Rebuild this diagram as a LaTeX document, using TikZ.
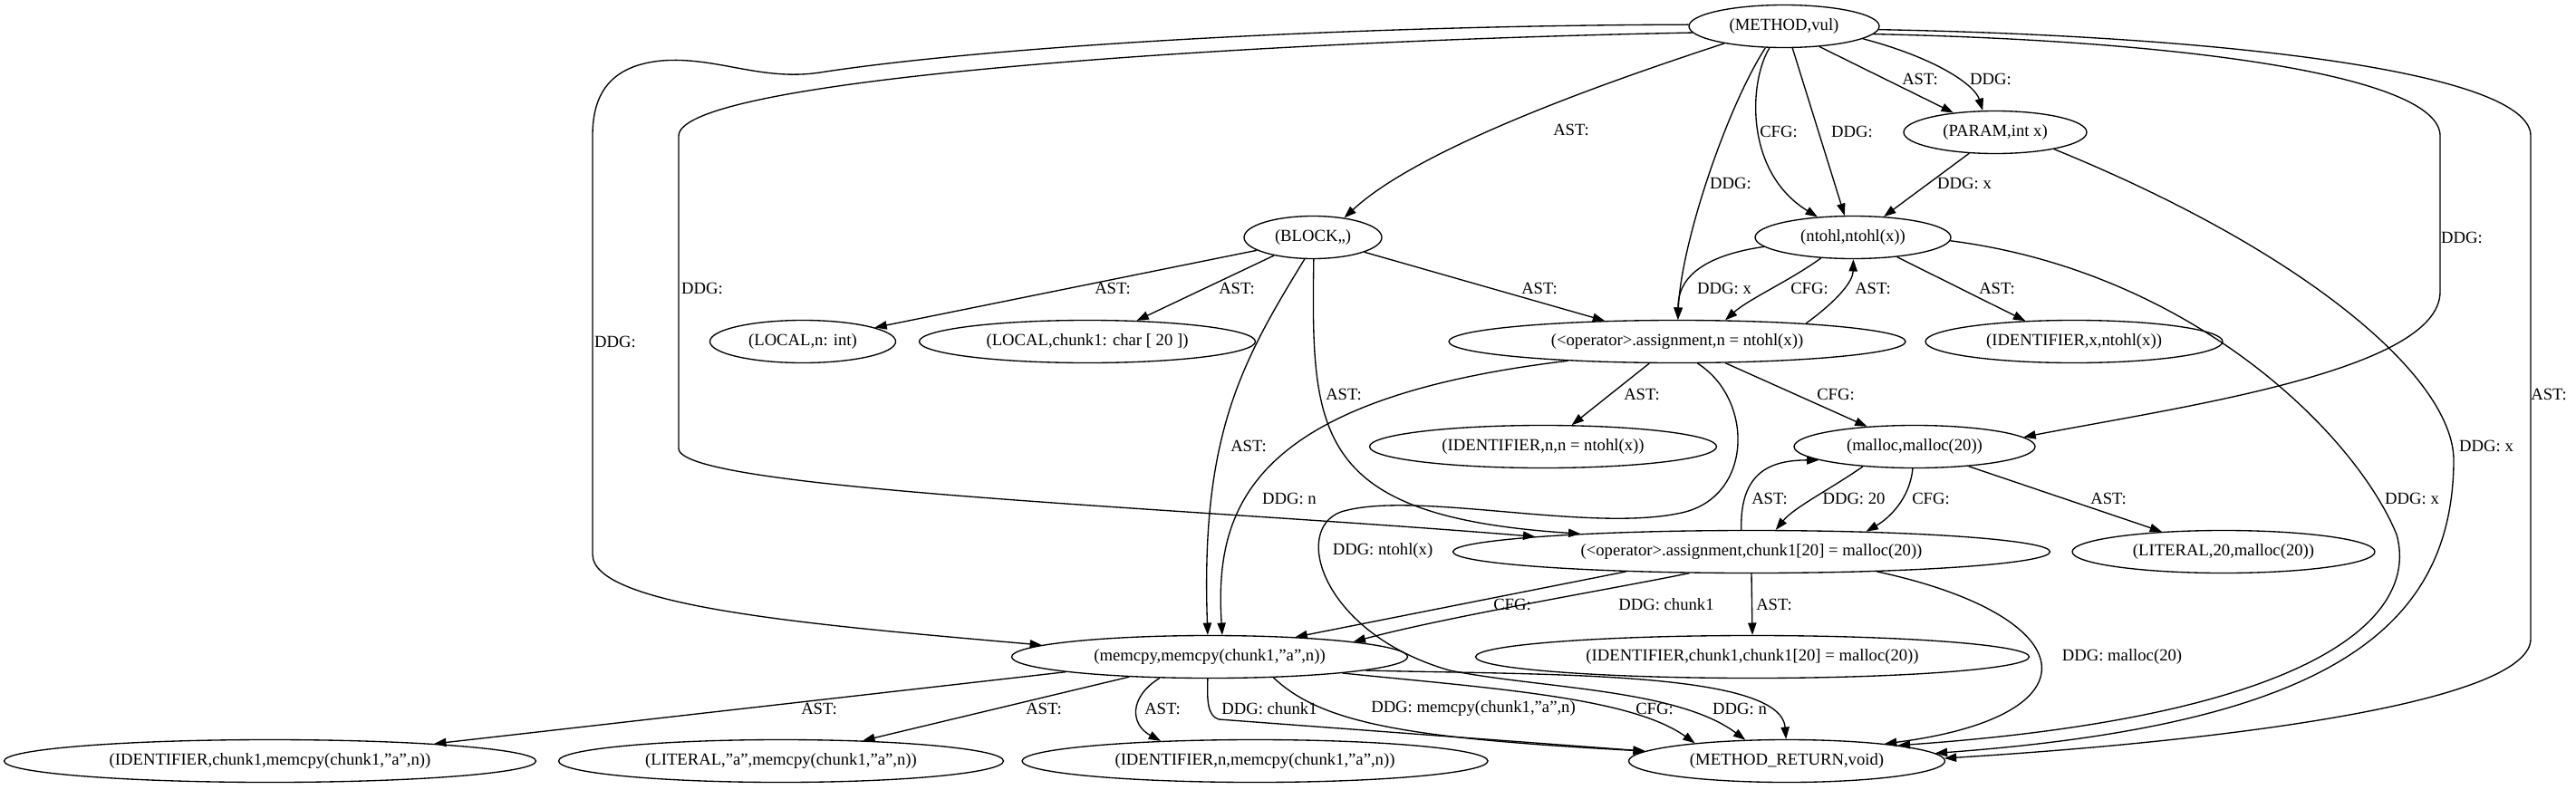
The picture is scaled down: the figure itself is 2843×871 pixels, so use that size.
\documentclass[tikz,border=0pt]{standalone}
\usepackage{fontspec}
\setmainfont{Liberation Serif}
\usetikzlibrary{shapes.geometric, arrows.meta}

\tikzset{
  every node/.style={font=\fontsize{14}{16}\selectfont},
  nd/.style={ellipse, draw, line width=1pt, inner sep=0pt,
    minimum height=35.25pt, minimum width=#1*0.75pt},
  dep/.style={->, line width=1pt},
  lbl/.style={inner sep=0pt},
}

\begin{document}
\begin{tikzpicture}[>={Triangle[length=10pt,width=7pt]}, x=0.75pt, y=-0.75pt]
    \useasboundingbox (0,0) rectangle (2843,871);

    % Nodes, row by row
    \node[nd=210] (mth) at (1969,29) {(METHOD,vul)};
    \node[nd=202] (prm) at (2202,146) {(PARAM,int x)};
    \node[nd=152] (blk) at (1449,262) {(BLOCK,,)};
    \node[nd=216] (nth) at (2045,262) {(ntohl,ntohl(x))};
    \node[nd=205] (lcn) at (886,377) {(LOCAL,n: int)};
    \node[nd=371] (lcc) at (1200,377) {(LOCAL,chunk1: char [ 20 ])};
    \node[nd=504] (asn) at (1851,377) {(<operator>.assignment,n = ntohl(x))};
    \node[nd=328] (idx) at (2289,377) {(IDENTIFIER,x,ntohl(x))};
    \node[nd=383] (idn) at (1703,493) {(IDENTIFIER,n,n = ntohl(x))};
    \node[nd=266] (mal) at (2113,493) {(malloc,malloc(20))};
    \node[nd=659] (asc) at (1933,609) {(<operator>.assignment,chunk1[20] = malloc(20))};
    \node[nd=334] (l20) at (2454,609) {(LITERAL,20,malloc(20))};
    \node[nd=437] (mcp) at (1335,725) {(memcpy,memcpy(chunk1,"a",n))};
    \node[nd=611] (icc) at (1934,725) {(IDENTIFIER,chunk1,chunk1[20] = malloc(20))};
    \node[nd=587] (icm) at (298,840) {(IDENTIFIER,chunk1,memcpy(chunk1,"a",n))};
    \node[nd=491] (lta) at (862,840) {(LITERAL,"a",memcpy(chunk1,"a",n))};
    \node[nd=514] (inm) at (1385,840) {(IDENTIFIER,n,memcpy(chunk1,"a",n))};
    \node[nd=349] (ret) at (1972,840) {(METHOD\_RETURN,void)};

    % Edges out of METHOD
    \draw[dep] (mth.196) .. controls (1790,85) and (1570,160) .. (blk.32) node[lbl] at (1734,143) {AST:};
    \draw[dep] (mth.330) -- (prm.155) node[lbl] at (2119,87) {AST:};
    \draw[dep] (mth.351) .. controls (2140,65) and (2180,95) .. (prm.120) node[lbl] at (2197,87) {DDG:};
    \draw[dep] (mth.236) .. controls (1930,90) and (1925,190) .. (nth.150) node[lbl] at (1963,145) {CFG:};
    \draw[dep] (mth.291) -- (nth.111) node[lbl] at (2044,145) {DDG:};
    \draw[dep] (mth.229) .. controls (1905,120) and (1855,270) .. (asn.88) node[lbl] at (1910,202) {DDG:};
    \draw[dep] (mth.355) .. controls (2420,45) and (2693,85) .. (2693,150) -- (2693,322)
        .. controls (2693,410) and (2400,450) .. (mal.5) node[lbl] at (2717,262) {DDG:};
    \draw[dep] (mth.358) .. controls (2460,40) and (2793,80) .. (2793,150) -- (2793,705)
        .. controls (2793,770) and (2500,815) .. (ret.1.5) node[lbl] at (2813,435) {AST:};
    \draw[dep] (mth.179) .. controls (1500,28) and (1100,50) .. (905,80)
        .. controls (840,90) and (790,62) .. (730,67)
        .. controls (668,73) and (654,110) .. (654,150) -- (654,612)
        .. controls (654,670) and (900,690) .. (mcp.176) node[lbl] at (679,377) {DDG:};
    \draw[dep] (mth.184) .. controls (1400,45) and (749,85) .. (749,150) -- (749,495)
        .. controls (749,540) and (1300,560) .. (asc.176) node[lbl] at (775,318) {DDG:};

    % PARAM
    \draw[dep] (prm.219) -- (nth.34) node[lbl] at (2168,202) {DDG: x};
    \draw[dep] (prm.344) .. controls (2550,280) and (2710,420) .. (2708,510)
        .. controls (2706,700) and (2560,800) .. (ret.3.5) node[lbl] at (2744,492) {DDG: x};

    % BLOCK
    \draw[dep] (blk.193) -- (lcn.11) node[lbl] at (1228,318) {AST:};
    \draw[dep] (blk.205) -- (lcc.23) node[lbl] at (1365,318) {AST:};
    \draw[dep] (blk.344) -- (asn.164) node[lbl] at (1699,318) {AST:};
    \draw[dep] (blk.249) .. controls (1370,400) and (1325,480) .. (mcp.95) node[lbl] at (1378,492) {AST:};
    \draw[dep] (blk.272) .. controls (1447,480) and (1450,570) .. (asc.174) node[lbl] at (1483,435) {AST:};

    % ntohl
    \draw[dep] (nth.186) .. controls (1860,285) and (1852,320) .. (asn.88) node[lbl] at (1903,318) {DDG: x};
    \draw[dep] (nth.213) .. controls (1975,310) and (1930,330) .. (asn.24) node[lbl] at (1997,318) {CFG:};
    \draw[dep] (asn.8) .. controls (2030,330) and (2045,310) .. (nth.271) node[lbl] at (2067,318) {AST:};
    \draw[dep] (nth.336) -- (idx.157) node[lbl] at (2204,318) {AST:};
    \draw[dep] (nth.358) .. controls (2420,300) and (2600,480) .. (2645,590)
        .. controls (2670,680) and (2560,790) .. (ret.8) node[lbl] at (2662,550) {DDG: x};

    % n = ntohl(x)
    \draw[dep] (asn.190) .. controls (1380,440) and (1340,560) .. (mcp.60) node[lbl] at (1423,550) {DDG: n};
    \draw[dep] (asn.336) -- (mal.157) node[lbl] at (2026,435) {CFG:};
    \draw[dep] (asn.218) -- (idn.37) node[lbl] at (1812,435) {AST:};
    \draw[dep] (asn.313) .. controls (1935,440) and (1935,545) .. (1860,565)
        .. controls (1760,590) and (1560,540) .. (1480,565)
        .. controls (1425,585) and (1460,700) .. (1600,740)
        .. controls (1700,760) and (1850,760) .. (ret.153) node[lbl] at (1526,608) {DDG: ntohl(x)};

    % malloc and chunk1 = malloc(20)
    \draw[dep] (asc.115) .. controls (1920,520) and (1955,508) .. (mal.188) node[lbl] at (1953,550) {AST:};
    \draw[dep] (mal.201) .. controls (2020,540) and (1980,560) .. (asc.42) node[lbl] at (2046,550) {DDG: 20};
    \draw[dep] (mal.265) .. controls (2108,550) and (2085,572) .. (asc.10) node[lbl] at (2131,550) {CFG:};
    \draw[dep] (mal.340) -- (l20.162) node[lbl] at (2327,550) {AST:};
    \draw[dep] (asc.189) -- (mcp.13) node[lbl] at (1669,667) {CFG:};
    \draw[dep] (asc.199) .. controls (1780,650) and (1600,680) .. (mcp.6) node[lbl] at (1839,667) {DDG: chunk1};
    \draw[dep] (asc.south) -- (icc.north) node[lbl] at (1958,667) {AST:};
    \draw[dep] (asc.351) .. controls (2300,680) and (2320,790) .. (ret.10) node[lbl] at (2342,725) {DDG: malloc(20)};

    % memcpy
    \draw[dep] (mcp.186) -- (icm.6) node[lbl] at (904,782) {AST:};
    \draw[dep] (mcp.194) -- (lta.14) node[lbl] at (1152,782) {AST:};
    \draw[dep] (mcp.203) .. controls (1245,770) and (1248,800) .. (inm.168) node[lbl] at (1283,782) {AST:};
    \draw[dep] (mcp.265) .. controls (1332,775) and (1333,790) .. (1345,794) -- (ret.176) node[lbl] at (1401,782) {DDG: chunk1};
    \draw[dep] (mcp.342) .. controls (1460,800) and (1560,815) .. (ret.176) node[lbl] at (1626,782) {DDG: memcpy(chunk1,"a",n)};
    \draw[dep] (mcp.353) .. controls (1650,760) and (1800,770) .. (ret.169) node[lbl] at (1826,782) {CFG:};
    \draw[dep] (mcp.355) .. controls (1700,745) and (1965,740) .. (ret.92) node[lbl] at (1920,782) {DDG: n};
\end{tikzpicture}
\end{document}
